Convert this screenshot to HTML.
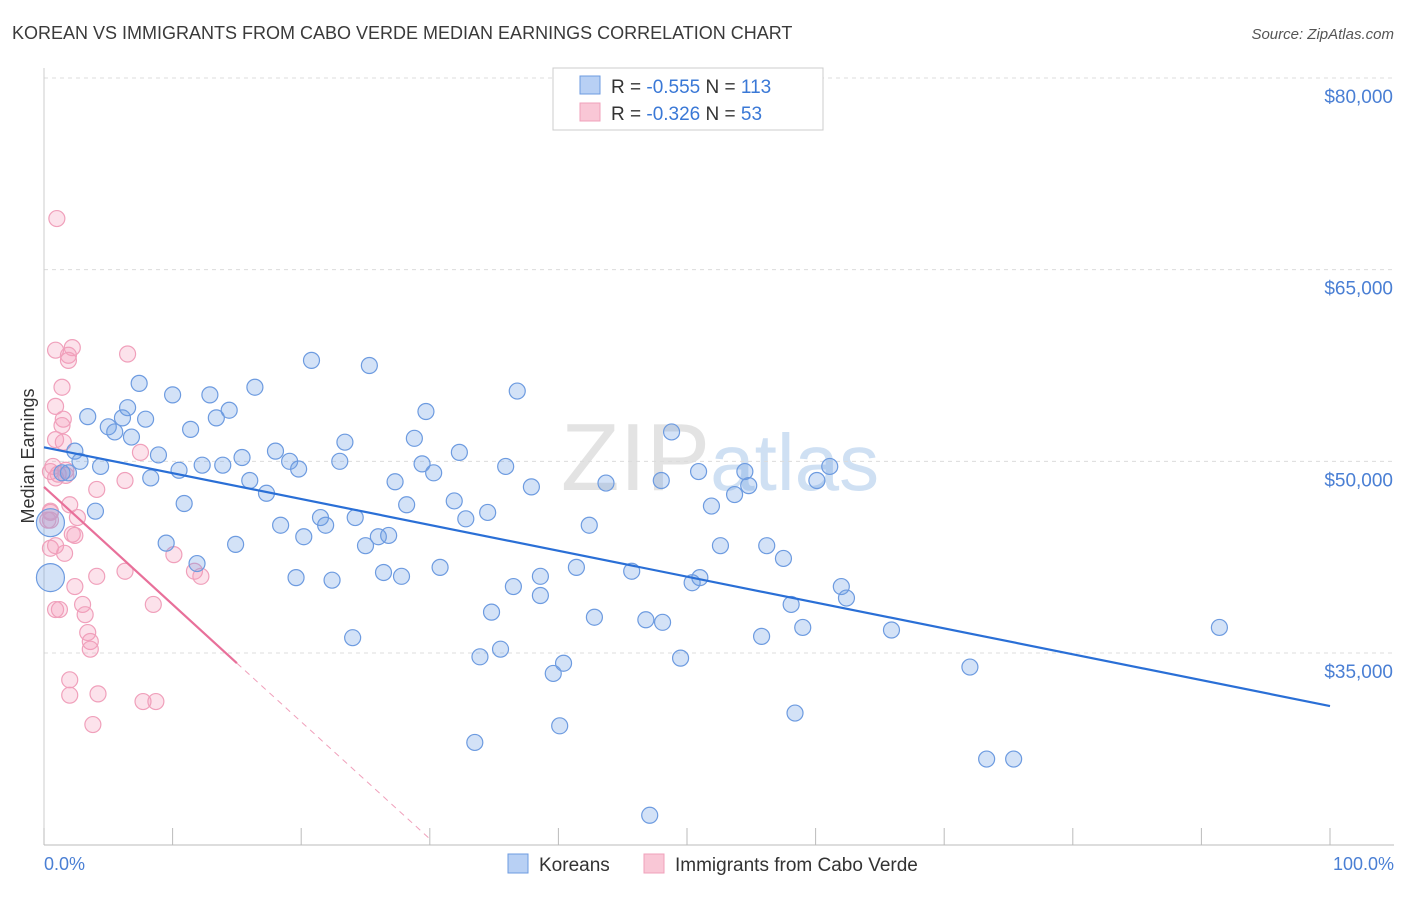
<!DOCTYPE html>
<html><head><meta charset="utf-8"><style>
body{margin:0;background:#fff;font-family:"Liberation Sans",sans-serif;}
svg text{font-family:"Liberation Sans",sans-serif;}
</style></head><body>
<svg id="chart" width="1406" height="892" xmlns="http://www.w3.org/2000/svg">
<text x="12" y="39" font-size="18" fill="#3a3a3a">KOREAN VS IMMIGRANTS FROM CABO VERDE MEDIAN EARNINGS CORRELATION CHART</text>
<text x="1394" y="39" font-size="15" fill="#555" text-anchor="end" font-style="italic">Source: ZipAtlas.com</text>
<text x="720" y="490" font-size="96" fill="#e3e3e3" text-anchor="middle" font-family="Liberation Serif"><tspan>ZIP</tspan><tspan fill="#cfe0f3" font-family="Liberation Sans" font-size="80">atlas</tspan></text>
<g id="grid"></g><g id="axes"></g><g id="marks"></g><g id="lines"></g>
<text transform="translate(34,456) rotate(-90)" font-size="18" fill="#333" text-anchor="middle">Median Earnings</text>
<text x="44" y="870" font-size="18" fill="#4a7fd4">0.0%</text>
<text x="1394" y="870" font-size="18" fill="#4a7fd4" text-anchor="end">100.0%</text>
<g>
<rect x="553" y="68" width="270" height="62" fill="#fff" stroke="#ccc"/>
<rect x="580" y="76" width="20" height="18" fill="#b8d0f4" stroke="#6d9be0"/>
<rect x="580" y="103" width="20" height="18" fill="#f9c7d6" stroke="#f0a0bb"/>
<text x="611" y="93" font-size="19" fill="#333">R = <tspan fill="#3a78d6">-0.555</tspan>   N = <tspan fill="#3a78d6">113</tspan></text>
<text x="611" y="120" font-size="19" fill="#333">R = <tspan fill="#3a78d6">-0.326</tspan>   N =  <tspan fill="#3a78d6">53</tspan></text>
</g>
<g><rect x="508" y="854" width="20" height="19" fill="#b8d0f4" stroke="#6d9be0"/><text x="539" y="871" font-size="19" fill="#333">Koreans</text></g>
<g><rect x="644" y="854" width="20" height="19" fill="#f9c7d6" stroke="#f0a0bb"/><text x="675" y="871" font-size="19" fill="#333">Immigrants from Cabo Verde</text></g>
</svg>
<script>
const yTicks=[80000,65000,50000,35000];
const yTickLabels=["$80,000","$65,000","$50,000","$35,000"];
const xTicks=[0,10,20,30,40,50,60,70,80,90,100];
const koreanX=[1.4,1.9,3.4,2.4,2.8,4.4,4.0,5.0,5.5,6.1,6.5,6.8,7.4,7.9,8.3,8.9,9.5,10.0,10.5,10.9,11.4,11.9,12.3,12.9,13.4,13.9,14.4,14.9,15.4,16.0,16.4,17.3,18.0,18.4,19.1,19.6,19.8,20.2,20.8,21.5,21.9,22.4,23.0,23.4,24.0,24.2,25.0,25.3,26.0,26.4,26.8,27.3,27.8,28.2,28.8,29.4,29.7,30.3,30.8,31.9,32.3,32.8,33.5,33.9,34.5,34.8,35.5,35.9,36.5,36.8,37.9,38.6,38.6,39.6,40.1,40.4,41.4,42.4,42.8,43.7,45.7,46.8,47.1,48.1,48.8,48.0,49.5,50.4,50.9,51.0,51.9,52.6,53.7,54.5,54.8,55.8,56.2,57.5,58.1,58.4,59.0,60.1,61.1,62.0,62.4,65.9,72.0,73.3,75.4,91.4,0.5,0.5];
const koreanY=[49.1,49.1,53.5,50.8,50.0,49.6,46.1,52.7,52.3,53.4,54.2,51.9,56.1,53.3,48.7,50.5,43.6,55.2,49.3,46.7,52.5,42.0,49.7,55.2,53.4,49.7,54.0,43.5,50.3,48.5,55.8,47.5,50.8,45.0,50.0,40.9,49.4,44.1,57.9,45.6,45.0,40.7,50.0,51.5,36.2,45.6,43.4,57.5,44.1,41.3,44.2,48.4,41.0,46.6,51.8,49.8,53.9,49.1,41.7,46.9,50.7,45.5,28.0,34.7,46.0,38.2,35.3,49.6,40.2,55.5,48.0,41.0,39.5,33.4,29.3,34.2,41.7,45.0,37.8,48.3,41.4,37.6,22.3,37.4,52.3,48.5,34.6,40.5,49.2,40.9,46.5,43.4,47.4,49.2,48.1,36.3,43.4,42.4,38.8,30.3,37.0,48.5,49.6,40.2,39.3,36.8,33.9,26.7,26.7,37.0,45.2,40.9];
const caboX=[1.0,0.9,2.2,1.9,1.9,6.5,1.4,0.9,1.5,1.4,1.5,0.9,1.7,0.9,0.5,0.7,1.1,4.1,6.3,7.5,2.0,0.5,0.5,2.6,2.2,0.3,0.5,1.6,0.9,10.1,11.7,12.2,4.1,6.3,2.4,0.9,1.2,3.0,3.2,3.4,3.6,3.6,2.0,2.0,4.2,8.5,7.7,8.7,3.8,0.5,2.4,1.7];
const caboY=[69.0,58.7,58.9,58.3,57.9,58.4,55.8,54.3,53.3,52.8,51.5,51.7,49.3,48.7,49.2,49.6,49.0,47.8,48.5,50.7,46.6,46.1,45.4,45.6,44.3,45.4,43.2,42.8,43.4,42.7,41.4,41.0,41.0,41.4,40.2,38.4,38.4,38.8,38.0,36.6,35.9,35.3,32.9,31.7,31.8,38.8,31.2,31.2,29.4,46.0,44.2,48.9];
const koreanTrend=[51.1,30.85];
const caboTrend=[48.0,34.2,20.45];
const caboTrendX=[0,15,30];
const NS="http://www.w3.org/2000/svg";
const X0=44,X1=1330,YTOP=78,YBOT=653;
function xs(p){return X0+(X1-X0)*p/100;}
function ys(k){return YTOP+(80-k)*(YBOT-YTOP)/45;}
function ysv(v){return ys(v/1000);}
function mk(t,a,parent){const e=document.createElementNS(NS,t);for(const k in a)e.setAttribute(k,a[k]);document.getElementById(parent).appendChild(e);return e;}
yTicks.forEach((v,i)=>{
 const g=mk('line',{x1:44,x2:1394,y1:ysv(v),y2:ysv(v),stroke:'#dcdcdc','stroke-dasharray':'4,4'},'grid');
 
 
 const t=mk('text',{x:1393,y:ysv(v)+25,'font-size':19,fill:'#4a7fd4','text-anchor':'end'},'grid');
 t.textContent=yTickLabels[i];
 
 
});
const ax=mk('line',{x1:44,x2:1394,y1:845,y2:845,stroke:'#bbb'},'axes');


const ay=mk('line',{x1:44,x2:44,y1:68,y2:845,stroke:'#ccc'},'axes');


xTicks.forEach(p=>{
 const t=mk('line',{x1:xs(p),x2:xs(p),y1:828,y2:845,stroke:'#bbb'},'axes');
 
 
});
caboX.forEach((x,i)=>{
 const c=mk('circle',{cx:xs(x),cy:ys(caboY[i]),r:8,fill:'rgba(244,160,190,0.3)',stroke:'#f0a0bb','stroke-width':1.2},'marks');
 
 
});
koreanX.forEach((x,i)=>{
 const big=i>=koreanX.length-2;
 const c=mk('circle',{cx:xs(x),cy:ys(koreanY[i]),r:big?14:8,fill:'rgba(110,160,230,0.3)',stroke:'#6d9be0','stroke-width':1.2},'marks');
 
 
});
const kl=mk('line',{x1:xs(0),y1:ys(koreanTrend[0]),x2:xs(100),y2:ys(koreanTrend[1]),stroke:'#2a6fd6','stroke-width':2.2},'lines');


const pl=mk('line',{x1:xs(caboTrendX[0]),y1:ys(caboTrend[0]),x2:xs(caboTrendX[1]),y2:ys(caboTrend[1]),stroke:'#e8709a','stroke-width':2.2},'lines');


const pd=mk('line',{x1:xs(caboTrendX[1]),y1:ys(caboTrend[1]),x2:xs(caboTrendX[2]),y2:ys(caboTrend[2]),stroke:'#f0a0bb','stroke-width':1,'stroke-dasharray':'6,5'},'lines');


</script>
</body></html>
